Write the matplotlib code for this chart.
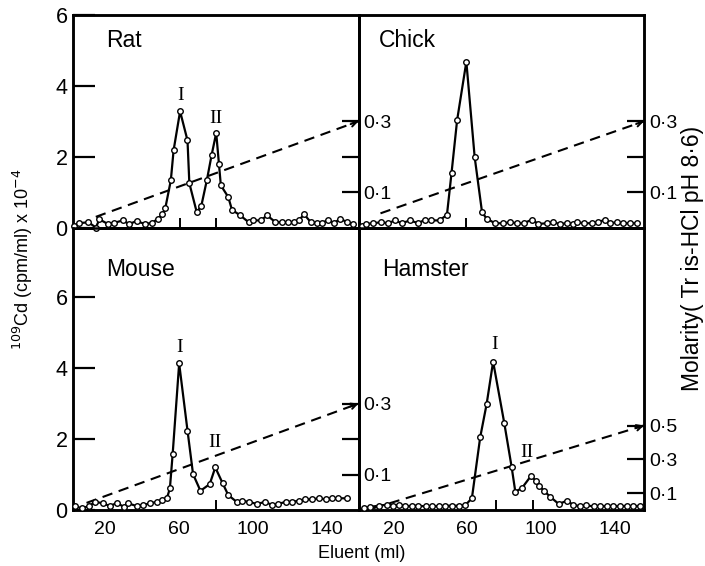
import matplotlib
matplotlib.use("Agg")
import matplotlib.pyplot as plt

# ---------------- data ----------------
rat_x = [3, 6, 11, 15, 17, 21.5, 25, 29.5, 33, 37, 41.5, 45.5, 48.5, 51, 52.5, 55.5, 57, 60.5,
         64.5, 65.5, 69.5, 72, 75, 77.5, 80, 81.5, 82.5, 86.5, 88.5, 93, 97.5, 100, 104, 107.5,
         112, 115.5, 119, 122, 124.5, 127.5, 131, 134.5, 137, 140.5, 143.5, 147, 150.5, 154]
rat_y = [0.05, 0.12, 0.15, 0.0, 0.23, 0.1, 0.13, 0.2, 0.1, 0.18, 0.1, 0.13, 0.25, 0.37, 0.54,
         1.33, 2.18, 3.28, 2.46, 1.25, 0.43, 0.62, 1.35, 2.04, 2.67, 1.78, 1.19, 0.86, 0.5, 0.34,
         0.15, 0.2, 0.2, 0.34, 0.15, 0.15, 0.15, 0.15, 0.2, 0.37, 0.15, 0.12, 0.12, 0.22, 0.12,
         0.25, 0.15, 0.1]

chick_x = [3, 5, 9, 13.5, 17, 21, 24.5, 29, 33.5, 37, 40.5, 45, 49, 51.5, 54.5, 59.5, 64, 68,
           70.5, 75, 79.5, 83, 87, 90.5, 95, 98.5, 103, 106.5, 110, 114, 117, 119.5, 123, 127.5,
           131, 134.5, 137.5, 141, 144.5, 148, 152]
chick_y = [0.05, 0.1, 0.12, 0.15, 0.12, 0.2, 0.12, 0.2, 0.12, 0.22, 0.2, 0.2, 0.36, 1.55, 3.03,
           4.68, 1.99, 0.43, 0.25, 0.12, 0.12, 0.15, 0.12, 0.12, 0.22, 0.1, 0.12, 0.15, 0.1, 0.12,
           0.1, 0.15, 0.12, 0.12, 0.15, 0.22, 0.12, 0.15, 0.12, 0.12, 0.12]

mouse_x = [4, 7.5, 11.5, 14.5, 19, 22.5, 26.5, 30, 32.5, 37, 40.5, 44.5, 48, 50.5, 53.5, 55,
           56.5, 60, 64.5, 67.5, 71.5, 76.5, 79.5, 83.5, 86.5, 91, 94, 97.5, 102, 106.5, 110,
           113.5, 117.5, 121, 124.5, 128, 131.5, 135.5, 139, 142.5, 146, 150.5]
mouse_y = [0.1, 0.05, 0.11, 0.23, 0.19, 0.11, 0.2, 0.09, 0.19, 0.11, 0.14, 0.19, 0.23, 0.28,
           0.35, 0.61, 1.58, 4.13, 2.24, 1.01, 0.54, 0.73, 1.2, 0.75, 0.42, 0.23, 0.26, 0.23,
           0.17, 0.23, 0.14, 0.17, 0.23, 0.23, 0.26, 0.3, 0.3, 0.33, 0.3, 0.33, 0.33, 0.33]

hamster_x = [4, 7.5, 12, 16.5, 20, 23, 26.5, 30, 33.5, 37.5, 41, 44.5, 48, 51.5, 55.5, 59,
             62.5, 67, 70.5, 74, 80, 84, 86, 89.5, 94.5, 97, 99, 101.5, 105, 109.5, 114, 117.5,
             121, 124.5, 128.5, 132, 135.5, 139, 142.5, 146.5, 150, 153.5]
hamster_y = [0.05, 0.09, 0.12, 0.15, 0.12, 0.15, 0.1, 0.12, 0.12, 0.1, 0.12, 0.1, 0.12, 0.12,
             0.12, 0.14, 0.33, 2.05, 2.99, 4.18, 2.46, 1.22, 0.52, 0.61, 0.96, 0.83, 0.68, 0.54,
             0.37, 0.17, 0.26, 0.14, 0.11, 0.13, 0.1, 0.12, 0.1, 0.12, 0.1, 0.12, 0.1, 0.12]

# molarity gradients (start, end)
rat_grad_x, rat_grad_m = [15, 156.8], [0.03, 0.30]
chick_grad_x, chick_grad_m = [13, 155.7], [0.04, 0.30]
mouse_grad_x, mouse_grad_m = [10, 156.8], [0.02, 0.30]
hamster_grad_x, hamster_grad_m = [9, 155.7], [0.01, 0.50]

# peak positions (short marks on the x axis)
rat_peaks = [60.5, 80]
chick_peaks = [59.5]
mouse_peaks = [60, 80]
hamster_peaks = [75.5, 95.5]

x_ticks = [20, 60, 100, 140]
x_tick_labels = ["20", "60", "100", "140"]
y_ticks = [0, 2, 4, 6]
y_tick_labels = ["0", "2", "4", "6"]

# ---------------- figure ----------------
plt.rcParams['font.family'] = ['Liberation Sans', 'DejaVu Sans']
fig = plt.figure(figsize=(7.05, 5.66), dpi=100)

W, H = 705.0, 566.0
xl, xm, xr = 73.0, 358.5, 644.0
yt, ym, yb = 15.0, 227.5, 510.0


def make_ax(x0, x1, y0, y1):
    return fig.add_axes([x0 / W, 1 - y1 / H, (x1 - x0) / W, (y1 - y0) / H])


panels = [
    dict(name="Rat", x=rat_x, y=rat_y, gx=rat_grad_x, gm=rat_grad_m, peaks=rat_peaks,
         box=(xl, xm, yt, ym), ylim=6.0, xlim=(2.7, 156.8), fac=0.1,
         mt=[0.1, 0.2, 0.3], ml=["0·1", "", "0·3"], left=True, bottom=False,
         tpos=(0.115, 0.878), labels=[("I", 60.5, 3.74), ("II", 80, 3.09)]),
    dict(name="Chick", x=chick_x, y=chick_y, gx=chick_grad_x, gm=chick_grad_m, peaks=chick_peaks,
         box=(xm, xr, yt, ym), ylim=6.0, xlim=(1.1, 155.7), fac=0.1,
         mt=[0.1, 0.2, 0.3], ml=["0·1", "", "0·3"], left=False, bottom=False,
         tpos=(0.07, 0.882), labels=[]),
    dict(name="Mouse", x=mouse_x, y=mouse_y, gx=mouse_grad_x, gm=mouse_grad_m, peaks=mouse_peaks,
         box=(xl, xm, ym, yb), ylim=7.96, xlim=(2.7, 156.8), fac=0.1,
         mt=[0.1, 0.2, 0.3], ml=["0·1", "", "0·3"], left=True, bottom=True,
         tpos=(0.115, 0.853), labels=[("I", 60, 4.59), ("II", 79.5, 1.89)]),
    dict(name="Hamster", x=hamster_x, y=hamster_y, gx=hamster_grad_x, gm=hamster_grad_m,
         peaks=hamster_peaks, box=(xm, xr, ym, yb), ylim=7.96, xlim=(1.1, 155.7), fac=0.21,
         mt=[0.1, 0.3, 0.5], ml=["0·1", "0·3", "0·5"], left=False, bottom=True,
         tpos=(0.084, 0.853), labels=[("I", 74.6, 4.65), ("II", 92.4, 1.63)]),
]

for p in panels:
    ax = make_ax(*p["box"])
    tw = ax.twinx()
    ax.set_zorder(tw.get_zorder() + 1)
    ax.patch.set_visible(False)
    tw.patch.set_visible(False)

    ax.set_xlim(*p["xlim"])
    ax.set_ylim(0, p["ylim"])
    tw.set_ylim(0, p["ylim"] * p["fac"])

    for a in (ax, tw):
        for s in a.spines.values():
            s.set_linewidth(1.8)

    # data
    ax.plot(p["x"], p["y"], color="black", lw=1.6, marker="o", ms=4.0,
            mfc="white", mec="black", mew=1.0, clip_on=False, zorder=3)

    # gradient (dashed with arrow head)
    tw.plot(p["gx"], p["gm"], color="black", lw=1.5, ls=(0, (5, 3.2)))
    dx = p["gx"][1] - p["gx"][0]
    dm = p["gm"][1] - p["gm"][0]
    tw.annotate("", xy=(p["gx"][1], p["gm"][1]),
                xytext=(p["gx"][1] - 0.03 * dx, p["gm"][1] - 0.03 * dm),
                arrowprops=dict(arrowstyle="->", lw=1.4, color="black",
                                mutation_scale=10, shrinkA=0, shrinkB=0))

    # left axis ticks
    if p["left"]:
        ax.set_yticks(y_ticks)
        ax.set_yticklabels(y_tick_labels)
        ax.tick_params(axis="y", direction="in", length=16, width=1.6,
                       labelsize=15.5, pad=4)
    else:
        ax.set_yticks([])

    # x axis: labels without marks, and short marks at peak positions
    if p["bottom"]:
        ax.set_xticks(x_ticks)
        ax.set_xticklabels(x_tick_labels)
        ax.tick_params(axis="x", which="major", length=0, labelsize=14, pad=8)
    else:
        ax.set_xticks([])
    ax.set_xticks(p["peaks"], minor=True)
    ax.tick_params(axis="x", which="minor", direction="in", length=7, width=1.4)

    # molarity axis
    tw.set_yticks(p["mt"])
    tw.set_yticklabels(p["ml"])
    tw.tick_params(axis="y", direction="in", length=12, width=1.6, labelsize=14, pad=3.5)

    # titles and peak labels
    ax.text(p["tpos"][0], p["tpos"][1], p["name"], transform=ax.transAxes,
            fontsize=16.5, ha="left", va="center")
    for txt, lx, ly in p["labels"]:
        ax.text(lx, ly, txt, fontsize=14, ha="center", va="center",
                family=["Liberation Serif", "DejaVu Serif"])

fig.text(23 / W, 1 - 259 / H, r"$^{109}$Cd (cpm/ml) x 10$^{-4}$", rotation=90,
         ha="center", va="center", fontsize=13)
fig.text(692 / W, 1 - 258 / H, "Molarity( Tr is-HCl pH 8·6)", rotation=90,
         ha="center", va="center", fontsize=16.5)
fig.text(362 / W, 1 - 553 / H, "Eluent (ml)", ha="center", va="center", fontsize=13)

fig.savefig("out.png", dpi=100, facecolor="white")
